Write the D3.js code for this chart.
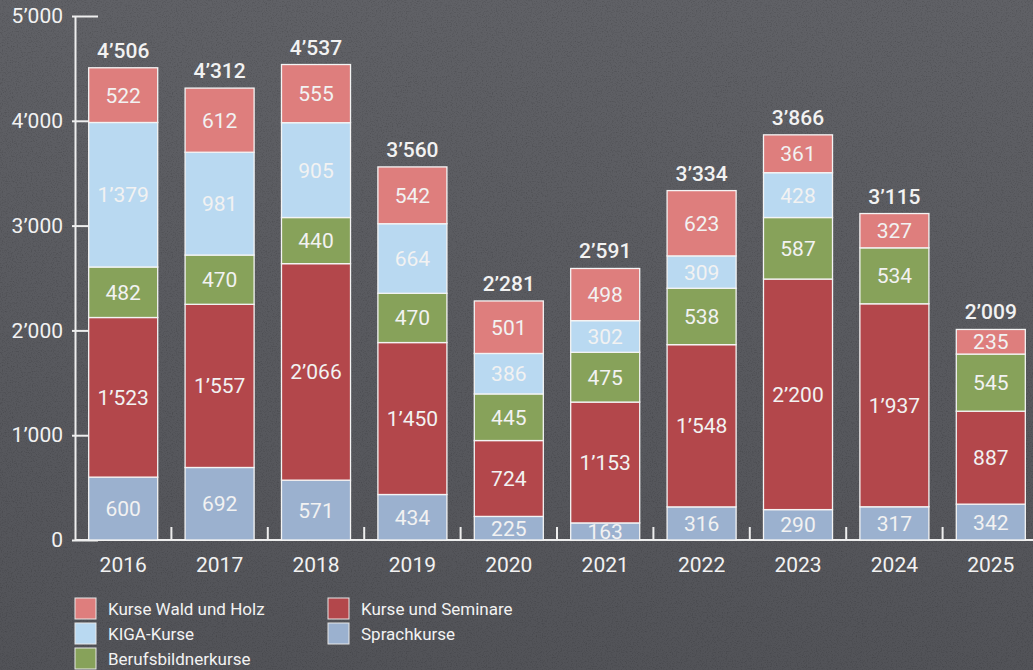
<!DOCTYPE html>
<html>
<head>
<meta charset="utf-8">
<script src="https://cdn.jsdelivr.net/npm/d3@7"></script>
<style>
  html, body { margin: 0; padding: 0; background: #56575c; }
  svg { display: block; }
  text { font-family: Roboto, "Noto Sans", sans-serif; fill: #f2f2f2; }
</style>
</head>
<body>
<div id="chart"></div>
<script>
// --- Données
const years = ["2016", "2017", "2018", "2019", "2020", "2021", "2022", "2023", "2024", "2025"];
const sprachkurse = [600, 692, 571, 434, 225, 163, 316, 290, 317, 342];
const kurseSeminare = [1523, 1557, 2066, 1450, 724, 1153, 1548, 2200, 1937, 887];
const berufsbildner = [482, 470, 440, 470, 445, 475, 538, 587, 534, 545];
const kiga = [1379, 981, 905, 664, 386, 302, 309, 428, 0, 0];
const waldHolz = [522, 612, 555, 542, 501, 498, 623, 361, 327, 235];
const yTicks = [0, 1000, 2000, 3000, 4000, 5000];

// ordre d'empilement (du bas vers le haut)
const series = [
  { key: "Sprachkurse", values: sprachkurse, color: "#9bb1cf" },
  { key: "Kurse und Seminare", values: kurseSeminare, color: "#b3474b" },
  { key: "Berufsbildnerkurse", values: berufsbildner, color: "#87a25a" },
  { key: "KIGA-Kurse", values: kiga, color: "#b9d9f1" },
  { key: "Kurse Wald und Holz", values: waldHolz, color: "#de7e7d" }
];
// ordre de la légende
const legendOrder = [
  ["Kurse Wald und Holz", "KIGA-Kurse", "Berufsbildnerkurse"],
  ["Kurse und Seminare", "Sprachkurse"]
];

const W = 1033, H = 670;
const fmt = d3.formatLocale({ decimal: ".", thousands: "\u2019", grouping: [3], currency: ["", ""] }).format(",d");

const rows = years.map((yr, i) => {
  const o = { year: yr };
  series.forEach(s => o[s.key] = s.values[i]);
  return o;
});
const stacked = d3.stack().keys(series.map(s => s.key))(rows);
const colorOf = new Map(series.map(s => [s.key, s.color]));

const svg = d3.select("#chart").append("svg").attr("width", W).attr("height", H);

// --- Fond béton
const defs = svg.append("defs");
const grad = defs.append("linearGradient").attr("id", "bg").attr("x1", 0).attr("y1", 0).attr("x2", 0).attr("y2", 1);
grad.append("stop").attr("offset", "0%").attr("stop-color", "#606166");
grad.append("stop").attr("offset", "100%").attr("stop-color", "#525358");
const noise = defs.append("filter").attr("id", "noise");
noise.append("feTurbulence").attr("type", "fractalNoise").attr("baseFrequency", 0.8).attr("numOctaves", 2).attr("seed", 3);
noise.append("feColorMatrix").attr("values", "0 0 0 0 0  0 0 0 0 0  0 0 0 0 0  0 0 0 -2.5 1.3");
svg.append("rect").attr("width", W).attr("height", H).attr("fill", "url(#bg)");
svg.append("rect").attr("width", W).attr("height", H).attr("filter", "url(#noise)").attr("opacity", 0.14);

// --- Échelles
const x = d3.scaleBand().domain(years).range([75, 1039]).paddingInner(0.284).paddingOuter(0.142);
const y = d3.scaleLinear().domain([0, 5000]).range([540, 16]);

// --- Axe Y
const yAxis = svg.append("g")
  .attr("transform", "translate(75,0)")
  .call(d3.axisLeft(y).tickValues(yTicks).tickSize(-23).tickSizeOuter(0).tickPadding(12).tickFormat(fmt));
yAxis.select(".domain").attr("stroke", "#eeeeee").attr("stroke-width", 2);
yAxis.selectAll(".tick line").attr("stroke", "#eeeeee").attr("stroke-width", 2).attr("x1", -3);
yAxis.selectAll(".tick text").attr("font-size", 21).attr("fill", "#eeeeee").attr("font-family", null);

// --- Ligne de base et graduations entre les barres
svg.append("line").attr("x1", 75).attr("x2", W).attr("y1", y(0)).attr("y2", y(0))
  .attr("stroke", "#eeeeee").attr("stroke-width", 2);
const gap = x.step() - x.bandwidth();
svg.append("g").selectAll("line").data(years.slice(0, -1)).join("line")
  .attr("x1", d => x(d) + x.bandwidth() + gap / 2)
  .attr("x2", d => x(d) + x.bandwidth() + gap / 2)
  .attr("y1", y(0)).attr("y2", y(0) - 13)
  .attr("stroke", "#eeeeee").attr("stroke-width", 2);

// --- Années
const xAxis = svg.append("g")
  .attr("transform", `translate(0,${y(0)})`)
  .call(d3.axisBottom(x).tickSize(0).tickPadding(17));
xAxis.select(".domain").remove();
xAxis.selectAll(".tick text").attr("font-size", 21).attr("fill", "#eeeeee").attr("font-family", null);

// --- Barres empilées
const layers = svg.append("g").selectAll("g").data(stacked).join("g")
  .attr("fill", d => colorOf.get(d.key));
layers.selectAll("rect").data(d => d.filter(p => p[1] > p[0])).join("rect")
  .attr("x", d => x(d.data.year))
  .attr("width", x.bandwidth())
  .attr("y", d => y(d[1]))
  .attr("height", d => y(d[0]) - y(d[1]))
  .attr("stroke", "#f4f4f4")
  .attr("stroke-width", 1.3);

// valeurs dans les segments
layers.selectAll("text").data(d => d.filter(p => p[1] > p[0])).join("text")
  .attr("x", d => x(d.data.year) + x.bandwidth() / 2)
  .attr("y", d => (y(d[0]) + y(d[1])) / 2)
  .attr("dy", "0.36em")
  .attr("text-anchor", "middle")
  .attr("font-size", 21)
  .attr("fill", "#ffffff")
  .text(d => fmt(d[1] - d[0]));

// totaux
const topLayer = stacked[stacked.length - 1];
svg.append("g").selectAll("text").data(topLayer).join("text")
  .attr("x", d => x(d.data.year) + x.bandwidth() / 2)
  .attr("y", d => y(d[1]) - 10)
  .attr("text-anchor", "middle")
  .attr("font-size", 21)
  .attr("font-weight", 500)
  .attr("fill", "#ffffff")
  .text(d => fmt(d[1]));

// --- Légende
const legend = svg.append("g");
const colX = [75, 328];
legendOrder.forEach((col, ci) => {
  col.forEach((key, ri) => {
    const g = legend.append("g").attr("transform", `translate(${colX[ci]},${598 + ri * 25})`);
    g.append("rect").attr("width", 21).attr("height", 21)
      .attr("fill", colorOf.get(key)).attr("stroke", "#e8e8e8").attr("stroke-width", 1);
    g.append("text").attr("x", 33).attr("y", 10.5).attr("dy", "0.36em")
      .attr("font-size", 17).attr("fill", "#eeeeee").text(key);
  });
});
</script>
</body>
</html>
